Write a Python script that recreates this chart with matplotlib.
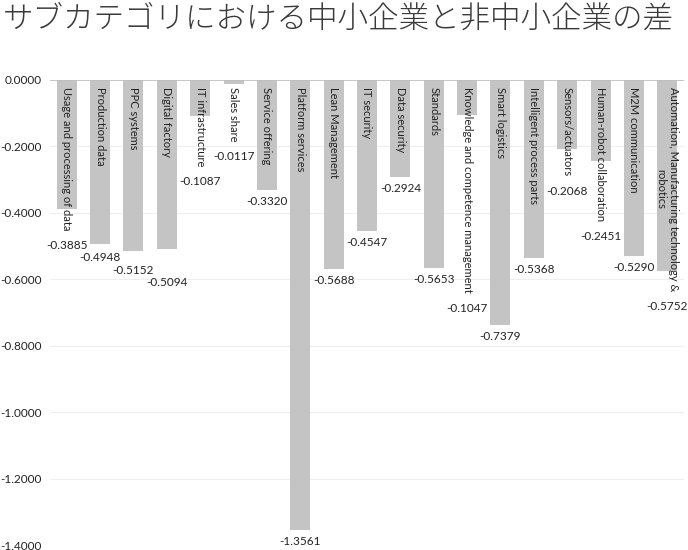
import matplotlib
matplotlib.use('Agg')
import matplotlib.pyplot as plt

# Data
title = 'サブカテゴリにおける中小企業と非中小企業の差'
categories = ['Usage and processing of data', 'Production data', 'PPC systems',
              'Digital factory', 'IT infrastructure', 'Sales share',
              'Service offering', 'Platform services', 'Lean Management',
              'IT security', 'Data security', 'Standards',
              'Knowledge and competence management', 'Smart logistics',
              'Intelligent process parts', 'Sensors/actuators',
              'Human-robot collaboration', 'M2M communication',
              'Automation, Manufacturing technology &\nrobotics']
values = [-0.3885, -0.4948, -0.5152, -0.5094, -0.1087, -0.0117, -0.3320,
          -1.3561, -0.5688, -0.4547, -0.2924, -0.5653, -0.1047, -0.7379,
          -0.5368, -0.2068, -0.2451, -0.5290, -0.5752]
yticks = [0.0, -0.2, -0.4, -0.6, -0.8, -1.0, -1.2, -1.4]

plt.rcParams['font.family'] = ['Lato', 'DejaVu Sans']

W, H = 688, 550
fig = plt.figure(figsize=(W / 100, H / 100), dpi=100)
ax = fig.add_axes([50 / W, 1 - 545 / H, 634 / W, 465 / H])

x = list(range(len(categories)))
ax.bar(x, values, width=0.6, color='#c4c4c4', zorder=2)

ax.set_xlim(-0.5, len(categories) - 0.5)
ax.set_ylim(-1.4, 0)
ax.set_yticks(yticks)
ax.set_yticklabels(['{:.4f}'.format(v) for v in yticks], fontsize=8.5, color='#222222')
ax.tick_params(axis='y', length=0, pad=6)
ax.set_xticks([])
ax.grid(axis='y', color='#efefef', linewidth=0.8, zorder=0)
for s in ['left', 'right', 'bottom', 'top']:
    ax.spines[s].set_visible(False)
ax.axhline(0, color='#bfbfbf', linewidth=1.2, zorder=3)

fig.text(3 / W, 1 - 3 / H, title, fontsize=22, color='#3a3a3a', va='top', ha='left',
         family=['Noto Sans CJK JP', 'DejaVu Sans'], fontweight='light')

# category labels inside the bars, reading top to bottom
px = 1.4 / 465  # data units per pixel
fig.canvas.draw()
renderer = fig.canvas.get_renderer()
inv = ax.transData.inverted()
placed = []
for xi, (cat, v) in enumerate(zip(categories, values)):
    t = ax.text(xi, -7 * px, cat, rotation=-90, ha='center', va='top',
                multialignment='center', fontsize=8, color='#222222', zorder=4)
    bb = t.get_window_extent(renderer)
    text_bottom = inv.transform((0, bb.y0))[1]
    if text_bottom < v:
        ylab = text_bottom - 10 * px
    else:
        ylab = v - 6 * px
    lab = ax.text(xi, ylab, '{:.4f}'.format(v), ha='center', va='top',
                  fontsize=8.5, color='#222222', zorder=4, clip_on=False)
    # push the value label down while it collides with an earlier one
    for _ in range(40):
        lb = lab.get_window_extent(renderer)
        if not any(lb.overlaps(p) for p in placed):
            break
        ylab -= 2 * px
        lab.set_y(ylab)
    placed.append(lab.get_window_extent(renderer))

fig.savefig('out.png', dpi=100)
